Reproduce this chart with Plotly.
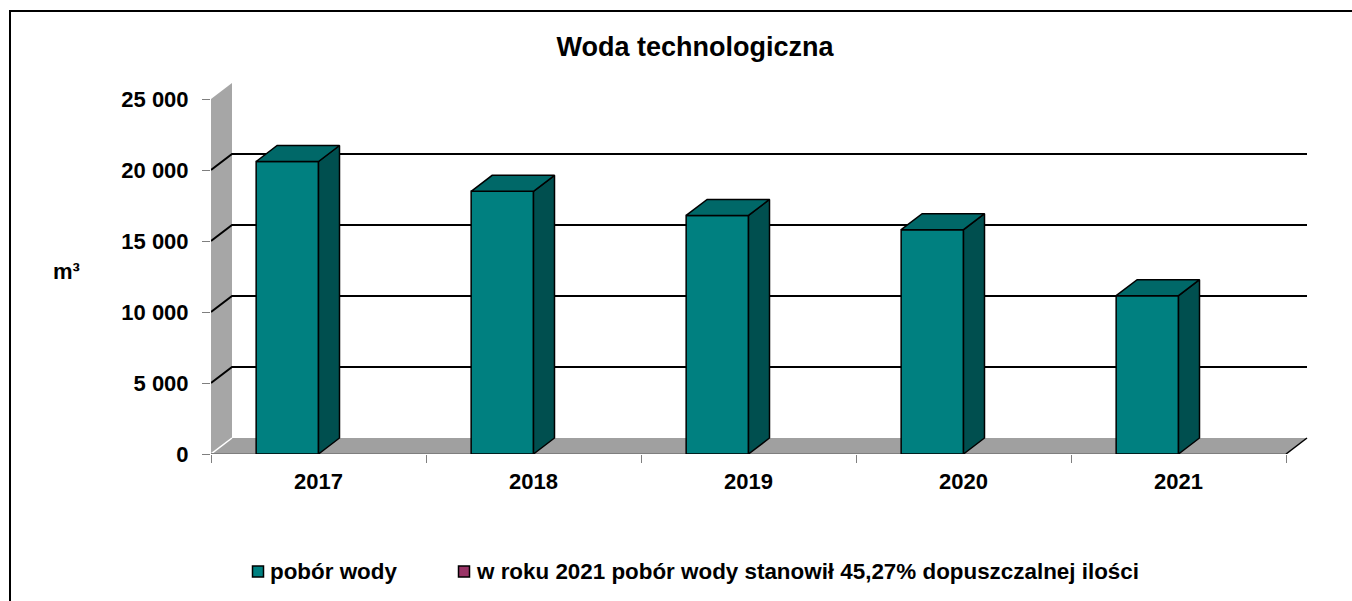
import plotly.graph_objects as go

# ---------------- data ----------------
years = ['2017', '2018', '2019', '2020', '2021']
water_intake = [20600, 18500, 16800, 15800, 11150]
y_tick_values = [0, 5000, 10000, 15000, 20000, 25000]
y_tick_labels = ['0', '5 000', '10 000', '15 000', '20 000', '25 000']
series_names = ['pobór wody', 'w roku 2021 pobór wody stanowił 45,27% dopuszczalnej ilości']
series_colors = ['#008080', '#993366']
title_text = 'Woda technologiczna'
unit_label = 'm³'

# ---------------- geometry / style ----------------
W, H = 1352, 601
PLOT_L, PLOT_R = 211, 1312
PLOT_T, PLOT_B = 75, 454
PX_PER_CAT = 215.0
PX_PER_UNIT = 71.0 / 5000.0
DEPTH_PX_X, DEPTH_PX_Y = 21, 16
BAR_W = 0.29
FONT = 'Liberation Sans, Arial, sans-serif'
SIDE_COLOR = '#004f4f'
TOP_COLOR = '#006868'
WALL_COLOR = '#a6a6a6'
FLOOR_COLOR = '#a0a0a0'

n = len(years)
xs = list(range(n))
x_min = -0.5
x_front_right = n - 0.5
x_max = x_min + (PLOT_R - PLOT_L) / PX_PER_CAT
y_max = (PLOT_B - PLOT_T) / PX_PER_UNIT
dx = DEPTH_PX_X / PX_PER_CAT
dy = DEPTH_PX_Y / PX_PER_UNIT
y_wall_top = y_tick_values[-1]

plot_w = PLOT_R - PLOT_L
plot_h = PLOT_B - PLOT_T


def pxx(px):
    return (px - PLOT_L) / plot_w


def pxy(py):
    return (PLOT_B - py) / plot_h


fig = go.Figure()

# front faces of the columns
fig.add_trace(go.Bar(
    x=xs, y=water_intake, width=BAR_W, offset=-BAR_W,
    marker=dict(color=series_colors[0], line=dict(color='black', width=1.5)),
    showlegend=False, hoverinfo='skip', cliponaxis=False,
))

# side and top faces
side_x, side_y = [], []
top_x, top_y = [], []
for x, v in zip(xs, water_intake):
    side_x += [x, x + dx, x + dx, x, x, None]
    side_y += [0, dy, v + dy, v, 0, None]
    top_x += [x - BAR_W, x - BAR_W + dx, x + dx, x, x - BAR_W, None]
    top_y += [v, v + dy, v + dy, v, v, None]

fig.add_trace(go.Scatter(
    x=side_x, y=side_y, mode='lines', fill='toself', fillcolor=SIDE_COLOR,
    line=dict(color='black', width=1.5), showlegend=False, hoverinfo='skip',
    cliponaxis=False,
))
fig.add_trace(go.Scatter(
    x=top_x, y=top_y, mode='lines', fill='toself', fillcolor=TOP_COLOR,
    line=dict(color='black', width=1.5), showlegend=False, hoverinfo='skip',
    cliponaxis=False,
))

shapes = []
# side wall
shapes.append(dict(
    type='path', xref='x', yref='y', layer='below',
    path=f'M {x_min},0 L {x_min},{y_wall_top} L {x_min + dx},{y_wall_top + dy} L {x_min + dx},{dy} Z',
    fillcolor=WALL_COLOR, line=dict(width=0),
))
# floor
shapes.append(dict(
    type='path', xref='x', yref='y', layer='below',
    path=f'M {x_min},0 L {x_front_right},0 L {x_front_right + dx},{dy} L {x_min + dx},{dy} Z',
    fillcolor=FLOOR_COLOR, line=dict(width=0),
))
# wall/floor corner
shapes.append(dict(
    type='line', xref='x', yref='y', layer='below',
    x0=x_min, y0=0, x1=x_min + dx, y1=dy, line=dict(color='white', width=1.5),
))
# floor front edge
shapes.append(dict(
    type='line', xref='x', yref='y', layer='below',
    x0=x_min, y0=0, x1=x_front_right, y1=0, line=dict(color='#7f7f7f', width=2),
))
# floor right edge
shapes.append(dict(
    type='line', xref='x', yref='y', layer='below',
    x0=x_front_right, y0=0, x1=x_front_right + dx, y1=dy, line=dict(color='black', width=1.5),
))
# gridlines
for v in y_tick_values[1:-1]:
    shapes.append(dict(
        type='path', xref='x', yref='y', layer='below',
        path=f'M {x_min},{v} L {x_min + dx},{v + dy} L {x_front_right + dx},{v + dy}',
        line=dict(color='black', width=2),
    ))

# outer border
shapes.append(dict(
    type='rect', xref='paper', yref='paper',
    x0=pxx(10), y0=pxy(11), x1=pxx(W + 20), y1=pxy(H + 20),
    line=dict(color='black', width=2), fillcolor='rgba(0,0,0,0)',
))

# legend (manual)
legend_items = [(252.5, 268), (458.5, 474)]
annotations = []
for (sq_x, tx_x), name, col in zip(legend_items, series_names, series_colors):
    shapes.append(dict(
        type='rect', xref='paper', yref='paper',
        x0=pxx(sq_x), x1=pxx(sq_x + 11), y0=pxy(566), y1=pxy(577),
        fillcolor=col, line=dict(color='black', width=1.5),
    ))
    annotations.append(dict(
        xref='paper', yref='paper', x=pxx(tx_x), y=pxy(571.5),
        xanchor='left', yanchor='middle', showarrow=False, text=name,
        font=dict(family=FONT, size=22.4, color='black', weight='bold'),
    ))

# unit label
annotations.append(dict(
    xref='paper', yref='paper', x=pxx(66), y=pxy(271),
    xanchor='center', yanchor='middle', showarrow=False, text=unit_label,
    font=dict(family=FONT, size=22, color='black', weight='bold'),
))

fig.update_layout(
    width=W, height=H, autosize=False,
    margin=dict(l=PLOT_L, r=W - PLOT_R, t=PLOT_T, b=H - PLOT_B, pad=0),
    paper_bgcolor='white', plot_bgcolor='white',
    showlegend=False,
    title=dict(
        text=title_text, xref='paper', x=pxx(695), xanchor='center',
        yref='container', y=1 - 47 / H, yanchor='middle',
        font=dict(family=FONT, size=27, color='black', weight='bold'),
    ),
    xaxis=dict(
        range=[x_min, x_max], tickvals=xs, ticktext=years, ticks='',
        showgrid=False, zeroline=False, showline=False,
        tickfont=dict(family=FONT, size=22, color='black', weight='bold'),
        ticklabelstandoff=12,
        minor=dict(tickvals=[i - 0.5 for i in range(n + 1)], ticks='outside',
                   ticklen=8, tickcolor='#7f7f7f', tickwidth=1, showgrid=False),
    ),
    yaxis=dict(
        range=[0, y_max], tickvals=y_tick_values, ticktext=y_tick_labels,
        ticks='outside', ticklen=8, tickcolor='#7f7f7f', tickwidth=1,
        showgrid=False, zeroline=False, showline=False,
        tickfont=dict(family=FONT, size=22, color='black', weight='bold'),
        ticklabelstandoff=9,
    ),
    shapes=shapes,
    annotations=annotations,
)

fig.write_html('out.html', config={'displayModeBar': False},
               post_script="document.body.style.margin='0';document.body.style.overflow='hidden';")
